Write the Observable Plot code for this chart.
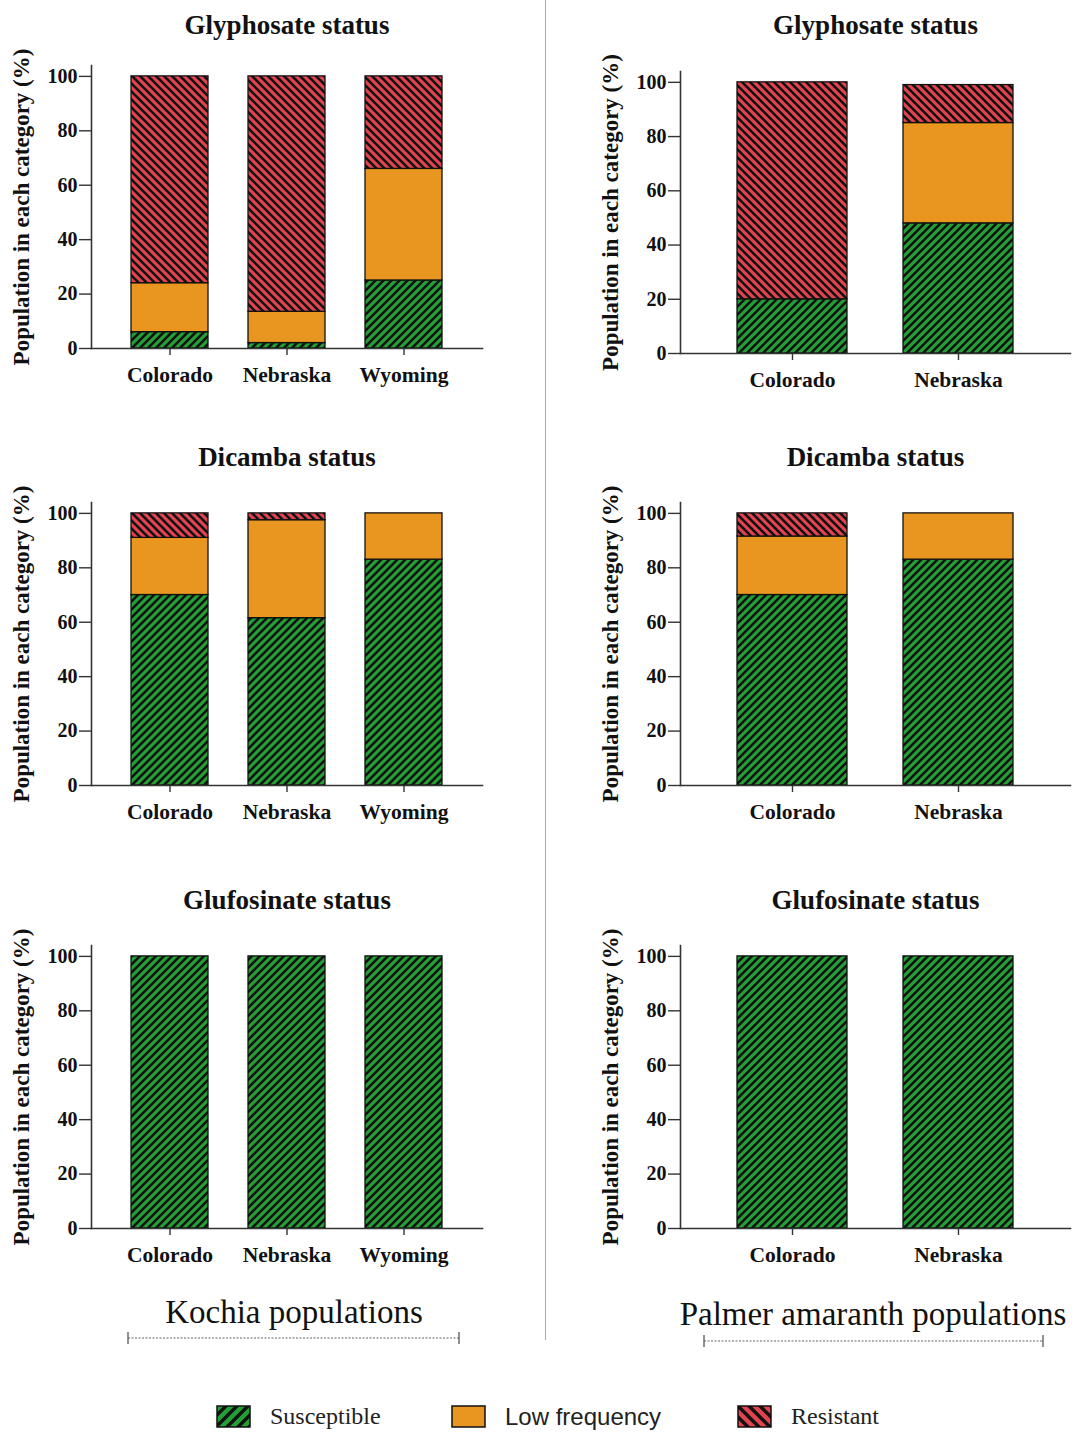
<!DOCTYPE html>
<html>
<head>
<meta charset="utf-8">
<script src="https://cdn.jsdelivr.net/npm/d3@7"></script>
<script src="https://cdn.jsdelivr.net/npm/@observablehq/plot@0.6"></script>
<style>
  body { margin: 0; background: #fff; }
  #page { position: relative; width: 1074px; height: 1433px; overflow: hidden; background: #fff; }
  .panel { position: absolute; }
  .group-label { position: absolute; font-family: "Liberation Serif", "Times New Roman", serif; font-size: 33px; color: #111; white-space: nowrap; transform: translateX(-50%); }
  .legend-item { position: absolute; top: 1403px; display: flex; align-items: center; white-space: nowrap; font-size: 24px; color: #222; }
  .legend-item svg { margin-right: 18px; }
  .serif { font-family: "Liberation Serif", "Times New Roman", serif; }
  .sans { font-family: "Liberation Sans", Arial, sans-serif; }
</style>
</head>
<body>
<div id="page"></div>
<script>
// Resistance categories, stacked bottom to top
const statuses = ["Susceptible", "Low frequency", "Resistant"];

// Sampled states for each weed species
const kochiaStates = ["Colorado", "Nebraska", "Wyoming"];
const palmerStates = ["Colorado", "Nebraska"];

// Percent of populations per state: [susceptible, low frequency, resistant]
const kochiaGlyphosate = [[6, 18, 76], [2, 11.5, 86.5], [25, 41, 34]];
const palmerGlyphosate = [[20, 0, 80], [48, 37, 14]];
const kochiaDicamba = [[70, 21, 9], [61.5, 36, 2.5], [83, 17, 0]];
const palmerDicamba = [[70, 21.5, 8.5], [83, 17, 0]];
const kochiaGlufosinate = [[100, 0, 0], [100, 0, 0], [100, 0, 0]];
const palmerGlufosinate = [[100, 0, 0], [100, 0, 0]];

const yTicks = [0, 20, 40, 60, 80, 100];
const yLabel = "Population in each category (%)";

const GREEN = "#22a035";
const ORANGE = "#e8961f";
const RED = "#e2434f";

const page = document.getElementById("page");

// Shared hatch fills for the susceptible (/) and resistant (\) segments
const defsSvg = d3.select(page).append("svg")
  .attr("width", 0).attr("height", 0)
  .style("position", "absolute").style("left", 0).style("top", 0);
const defs = defsSvg.append("defs");
function hatch(id, bg, path, size, sw) {
  const p = defs.append("pattern").attr("id", id)
    .attr("patternUnits", "userSpaceOnUse").attr("width", size).attr("height", size);
  p.append("rect").attr("width", size).attr("height", size).attr("fill", bg);
  p.append("path").attr("d", path).attr("stroke", "#111").attr("stroke-width", sw).attr("fill", "none");
}
hatch("hatch-s", GREEN, "M-2,2 L2,-2 M0,8 L8,0 M6,10 L10,6", 8, 2.6);
hatch("hatch-r", RED, "M-2,6 L2,10 M0,0 L8,8 M6,-2 L10,2", 8, 2.6);
hatch("hatch-s-big", GREEN, "M-3,3 L3,-3 M0,11 L11,0 M8,14 L14,8", 11, 3.4);
hatch("hatch-r-big", RED, "M-3,8 L3,14 M0,0 L11,11 M8,-3 L14,3", 11, 3.4);

function rowsFor(states, values) {
  const rows = [];
  states.forEach((state, i) => {
    statuses.forEach((status, j) => {
      if (values[i][j] > 0) rows.push({state, status, value: values[i][j]});
    });
  });
  return rows;
}

function panel({title, states, values, left, top, width, marginLeft, marginRight, marginTop, marginBottom, titleY}) {
  const height = 400;
  const chart = Plot.plot({
    width, height, marginLeft, marginRight, marginTop, marginBottom,
    style: {fontFamily: "'Liberation Serif', 'Times New Roman', serif", fontSize: "20px", fontWeight: "bold", color: "#111", background: "transparent", overflow: "visible"},
    x: {domain: states, padding: 0.34, label: null},
    y: {domain: [0, 104], label: null},
    color: {type: "ordinal", domain: statuses, range: ["url(#hatch-s)", ORANGE, "url(#hatch-r)"]},
    marks: [
      Plot.barY(rowsFor(states, values), {x: "state", y: "value", fill: "status", stroke: "#111", strokeWidth: 1.3}),
      Plot.frame({anchor: "left", stroke: "#333", strokeWidth: 1.6}),
      Plot.frame({anchor: "bottom", stroke: "#333", strokeWidth: 1.6}),
      Plot.axisY({ticks: yTicks, tickSize: 12, tickPadding: 2, label: null, fontSize: 20, stroke: "#333", strokeWidth: 1.4}),
      Plot.axisX({tickSize: 7, tickPadding: 11, label: null, fontSize: 21.5, stroke: "#333", strokeWidth: 1.4}),
      Plot.text([yLabel], {frameAnchor: "left", dx: -70, rotate: -90, textAnchor: "middle", lineAnchor: "middle", fontSize: 23, fontWeight: "bold"}),
      Plot.text([title], {frameAnchor: "top", dy: titleY - marginTop, textAnchor: "middle", lineAnchor: "middle", fontSize: 27, fontWeight: "bold"})
    ]
  });
  chart.classList.add("panel");
  chart.style.left = left + "px";
  chart.style.top = top + "px";
  page.appendChild(chart);
}

const leftCol = {left: 0, width: 540, marginLeft: 91, marginRight: 58};
const rightCol = {left: 540, width: 534, marginLeft: 140, marginRight: 4};

panel({...leftCol, title: "Glyphosate status", states: kochiaStates, values: kochiaGlyphosate, top: 0, marginTop: 65, marginBottom: 52, titleY: 25});
panel({...rightCol, title: "Glyphosate status", states: palmerStates, values: palmerGlyphosate, top: 0, marginTop: 71, marginBottom: 47, titleY: 25});
panel({...leftCol, title: "Dicamba status", states: kochiaStates, values: kochiaDicamba, top: 437, marginTop: 65, marginBottom: 52, titleY: 20});
panel({...rightCol, title: "Dicamba status", states: palmerStates, values: palmerDicamba, top: 437, marginTop: 65, marginBottom: 52, titleY: 20});
panel({...leftCol, title: "Glufosinate status", states: kochiaStates, values: kochiaGlufosinate, top: 880, marginTop: 65, marginBottom: 52, titleY: 20});
panel({...rightCol, title: "Glufosinate status", states: palmerStates, values: palmerGlufosinate, top: 880, marginTop: 65, marginBottom: 52, titleY: 20});

// Column divider and species brackets
const deco = d3.select(page).append("svg")
  .attr("width", 1074).attr("height", 1433)
  .style("position", "absolute").style("left", 0).style("top", 0)
  .style("pointer-events", "none");
deco.append("line").attr("x1", 545.5).attr("x2", 545.5).attr("y1", 0).attr("y2", 1340)
  .attr("stroke", "#aaa").attr("stroke-width", 1);
function bracket(x1, x2, y) {
  deco.append("line").attr("x1", x1).attr("x2", x2).attr("y1", y).attr("y2", y)
    .attr("stroke", "#666").attr("stroke-width", 1.2).attr("stroke-dasharray", "2,1.5");
  for (const x of [x1, x2]) {
    deco.append("line").attr("x1", x).attr("x2", x).attr("y1", y - 6).attr("y2", y + 6)
      .attr("stroke", "#555").attr("stroke-width", 1.3);
  }
}
bracket(128, 459, 1338);
bracket(704, 1043, 1341);

function groupLabel(text, cx, top) {
  const d = document.createElement("div");
  d.className = "group-label";
  d.textContent = text;
  d.style.left = cx + "px";
  d.style.top = top + "px";
  page.appendChild(d);
}
groupLabel("Kochia populations", 294, 1294);
groupLabel("Palmer amaranth populations", 873, 1296);

// Legend
const legendItems = [
  {label: statuses[0], fill: "url(#hatch-s-big)", x: 216, cls: "serif"},
  {label: statuses[1], fill: ORANGE, x: 451, cls: "sans"},
  {label: statuses[2], fill: "url(#hatch-r-big)", x: 737, cls: "serif"}
];
for (const item of legendItems) {
  const div = d3.select(page).append("div").attr("class", "legend-item " + item.cls)
    .style("left", item.x + "px");
  const sw = div.append("svg").attr("width", 36).attr("height", 24);
  sw.append("rect").attr("x", 1).attr("y", 1).attr("width", 33).attr("height", 21)
    .attr("fill", item.fill).attr("stroke", "#111").attr("stroke-width", 1.5);
  div.append("span").text(item.label);
}
</script>
</body>
</html>
